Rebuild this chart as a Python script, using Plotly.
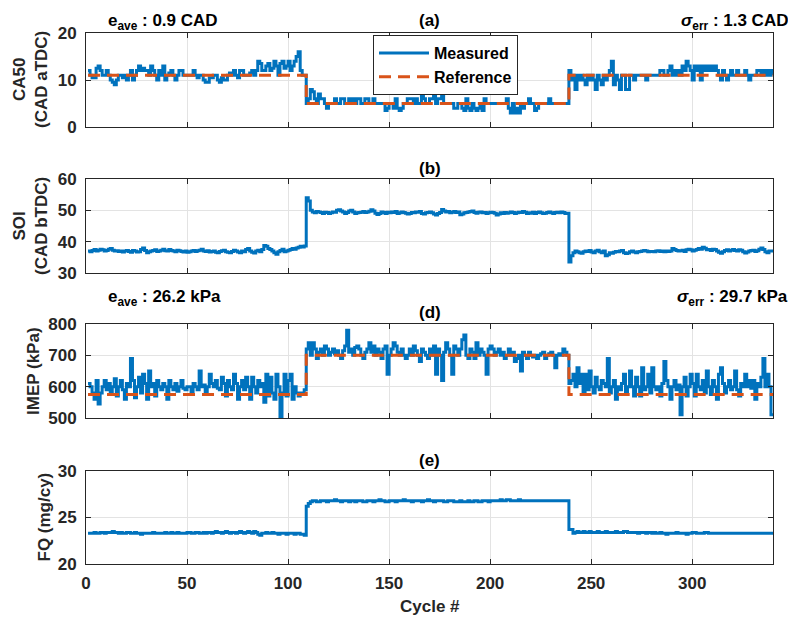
import plotly.graph_objects as go

cycles = list(range(1, 341))

ca50_measured = [
    12, 11, 10.5, 10.5, 12.5, 13, 12, 11, 11, 12,
    11, 10, 9.5, 9, 10, 11, 11, 10.5, 11, 10,
    11, 12, 10, 11, 12, 13, 12, 12.5, 12, 12,
    11, 13, 12, 11, 10, 12, 11, 13, 10, 11,
    11.5, 12, 11, 10, 11, 12, 12, 11, 11, 11,
    11, 11, 12, 11, 10.5, 11, 11, 10, 9.5, 9.5,
    10.5, 10.5, 11, 11, 10, 9.5, 10.5, 10, 10, 11,
    11.5, 11, 12, 11, 10.5, 12, 12, 11, 11, 11,
    11.5, 12, 11, 12, 14, 13.5, 12, 12, 13, 13.5,
    12, 12.5, 14, 13, 11, 13.5, 14, 12.5, 13, 14,
    12, 13, 14, 15, 16, 12, 11, 11, 5, 6,
    8, 7.5, 6, 5, 7, 6, 6, 5, 4, 5,
    5, 5, 6, 5, 5, 6, 6, 5, 5, 6,
    5, 6, 5, 6, 6, 5, 5, 6, 6, 5,
    5, 6, 5, 5, 5, 5, 5, 3.5, 4, 5,
    5, 4, 6, 4, 3.5, 4, 5, 5, 6, 6,
    6, 5, 6, 5, 5, 7, 6, 5, 5, 6,
    6, 7, 5, 6, 6, 7, 5, 5, 5, 5,
    5, 4, 4, 5, 5, 4, 3.5, 6, 4, 3.5,
    5, 4, 3.5, 4, 5, 3.5, 6, 5, 5, 5,
    5, 5, 5, 5, 5, 5, 5, 6, 4, 3,
    5, 3, 4, 3, 5, 4, 5, 5, 6, 5,
    5, 3.5, 4, 5, 5, 5, 5, 5, 6, 5,
    5, 5, 5, 5, 5, 5, 5, 5, 12, 10,
    11, 8, 11, 10, 11, 10, 9, 11, 10, 11,
    10, 8, 11, 10, 9, 11, 10, 11, 12, 14,
    9, 11, 10, 8, 11, 11, 8, 8, 11, 11,
    10, 11, 11, 11, 11, 11, 10, 11, 11, 11,
    11, 11, 11, 12, 12, 11, 11, 12, 13, 11,
    12, 11, 12, 11, 13, 12, 14, 13, 12, 10,
    13, 12, 13, 10, 13, 12, 13, 12, 13, 12,
    13, 12, 11, 10, 12, 11, 10, 11, 12, 11,
    11, 12, 11, 11, 11, 12, 11, 10, 11, 11,
    11, 12, 12, 11, 12, 11, 12, 11, 12, 11,
]

ref_cycles = [1, 109, 239, 340]
ca50_reference = [11, 5, 11, 11]
imep_reference = [575, 700, 575, 575]

soi_measured = [
    37.0, 36.8, 37.2, 37.5, 37.0, 37.3, 37.6, 37.4, 37.0, 37.2,
    37.6, 37.8, 37.3, 37.0, 37.1, 36.9, 37.0, 36.7, 37.0, 37.2,
    36.9, 36.6, 37.2, 37.0, 36.7, 36.8, 37.5, 38.0, 37.2, 36.5,
    36.8, 37.0, 37.2, 37.4, 36.9, 37.0, 37.3, 37.6, 37.1, 37.0,
    37.5, 37.2, 37.0, 36.8, 37.3, 37.1, 36.9, 36.7, 37.0, 36.6,
    36.8, 37.0, 37.2, 36.9, 37.1, 37.3, 37.6, 37.0, 36.9, 37.1,
    36.7, 36.9, 37.0, 36.6, 36.5, 36.9, 37.1, 37.3, 36.8, 36.6,
    36.5, 36.9, 37.3, 37.0, 36.7, 36.5, 37.0, 36.8, 37.5, 37.8,
    37.0, 36.6, 36.4, 37.0, 37.3, 36.8, 37.5, 38.8, 38.5, 37.8,
    37.5, 37.0, 36.5, 36.0, 36.8, 37.2, 37.6, 36.8, 37.0, 37.3,
    37.5, 37.8, 37.6, 38.0, 38.2, 38.5, 38.3, 38.6, 54.0, 53.0,
    50.0, 49.5, 49.2, 49.6, 49.5, 49.3, 49.0, 49.4, 49.3, 49.0,
    49.2, 49.5, 49.4, 50.0, 50.2, 49.8, 49.5, 49.0, 49.3, 49.8,
    50.0, 49.5, 49.0, 49.2, 49.3, 49.4, 49.6, 49.3, 49.5, 49.7,
    50.2, 49.8, 49.1, 48.7, 49.0, 49.5, 49.3, 49.0, 49.4, 49.2,
    49.5, 49.3, 49.6, 49.0, 49.2, 49.5, 49.3, 49.1, 48.8, 49.0,
    49.3, 49.2, 49.5, 49.4, 49.6, 49.0, 48.8, 49.2, 49.3, 49.5,
    49.2, 48.8, 48.5, 49.0, 49.3, 50.3, 49.8, 49.5, 49.6, 49.2,
    49.4, 49.6, 49.3, 49.5, 48.6, 48.8, 49.2, 49.3, 49.5, 49.6,
    49.8, 49.3, 49.1, 49.4, 49.5, 49.2, 49.3, 49.0, 49.2, 49.4,
    49.3, 49.1, 48.5, 48.8, 49.2, 49.0, 49.3, 49.1, 49.2, 49.5,
    49.3, 49.0, 49.2, 49.4, 49.3, 49.6, 49.4, 49.0, 49.2, 49.1,
    49.4, 49.0, 49.3, 49.5, 49.2, 49.0, 49.1, 49.3, 49.5, 49.2,
    49.0, 49.3, 49.4, 49.2, 49.5, 49.3, 49.0, 49.1, 33.5, 35.5,
    36.5, 37.0, 36.8, 36.5, 36.3, 36.8, 37.0, 36.9, 37.2, 36.7,
    36.5, 37.0, 37.3, 36.8, 36.5, 37.0, 35.5, 35.8, 36.5, 36.3,
    36.6, 36.9, 36.8, 37.0, 37.2, 36.5, 36.2, 36.4, 36.8, 37.0,
    36.7, 36.5, 36.8, 36.9, 37.0, 37.2, 37.0, 36.8, 36.9, 36.9,
    36.8, 37.0, 37.1, 36.9, 37.0, 36.8, 37.0, 36.9, 37.0, 37.8,
    37.5, 37.2, 37.0, 37.1, 37.3, 36.9, 37.4, 37.6, 37.4, 37.0,
    37.3, 37.5, 37.8, 37.6, 38.2, 37.9, 37.4, 37.5, 37.2, 37.6,
    37.5, 37.0, 36.6, 36.3, 36.8, 37.2, 37.4, 37.0, 37.3, 37.5,
    37.2, 37.0, 37.4, 37.3, 36.8, 36.4, 36.7, 37.0, 37.2, 37.3,
    36.9, 37.1, 37.6, 38.0, 37.5, 36.8, 36.5, 37.0, 37.0, 37.0,
]

imep_measured = [
    610, 600, 580, 560, 620, 545, 580, 600, 620, 590,
    610, 580, 600, 625, 570, 600, 620, 590, 560, 610,
    600, 690, 620, 565, 600, 630, 580, 640, 610, 560,
    650, 600, 610, 570, 620, 600, 590, 610, 600, 560,
    620, 600, 590, 610, 585, 600, 620, 595, 590, 600,
    600, 580, 610, 600, 590, 650, 600, 605, 575, 600,
    640, 610, 600, 620, 595, 590, 630, 610, 570, 620,
    600, 590, 640, 610, 560, 600, 620, 590, 630, 600,
    560, 630, 600, 580, 620, 600, 610, 550, 640, 570,
    630, 580, 560, 640, 600, 505, 580, 640, 570, 620,
    640, 560, 600, 580, 570, 580, 575, 590, 720, 740,
    700, 740, 720, 690, 710, 720, 700, 730, 720, 700,
    710, 720, 705, 715, 700, 690, 715, 730, 780, 710,
    720, 700, 725, 730, 720, 700, 690, 710, 720, 740,
    710, 730, 700, 720, 710, 690, 720, 730, 640, 700,
    720, 740, 730, 710, 700, 720, 700, 690, 700, 720,
    700, 730, 715, 700, 680, 720, 710, 700, 690, 720,
    700, 730, 640, 720, 700, 620, 710, 740, 720, 700,
    640, 730, 720, 700, 720, 750, 765, 700, 690, 720,
    710, 690, 740, 700, 720, 710, 700, 640, 720, 730,
    720, 700, 710, 720, 700, 710, 690, 700, 720, 700,
    710, 680, 690, 700, 650, 710, 700, 690, 710, 700,
    695, 700, 690, 700, 705, 710, 690, 700, 705, 710,
    700, 660, 700, 705, 700, 720, 710, 700, 610, 620,
    640, 600, 660, 610, 640, 580, 640, 590, 650, 600,
    580, 630, 600, 590, 620, 610, 600, 690, 580, 600,
    620, 560, 600, 590, 610, 640, 580, 600, 650, 600,
    570, 630, 600, 570, 660, 590, 600, 640, 580, 660,
    600, 590, 600, 570, 610, 680, 620, 600, 560, 600,
    620, 590, 605, 510, 600, 630, 570, 600, 640, 610,
    570, 640, 600, 590, 620, 580, 650, 600, 575, 620,
    600, 560, 640, 660, 610, 580, 600, 620, 590, 600,
    650, 590, 570, 610, 600, 640, 600, 620, 595, 620,
    560, 610, 600, 630, 690, 600, 640, 600, 510, 510,
]

fq_measured = [
    23.3, 23.3, 23.3, 23.4, 23.3, 23.3, 23.4, 23.4, 23.3, 23.4,
    23.4, 23.4, 23.5, 23.4, 23.4, 23.3, 23.4, 23.3, 23.3, 23.4,
    23.4, 23.3, 23.3, 23.4, 23.3, 23.3, 23.2, 23.3, 23.3, 23.3,
    23.3, 23.3, 23.4, 23.3, 23.3, 23.3, 23.3, 23.3, 23.4, 23.3,
    23.3, 23.4, 23.3, 23.3, 23.4, 23.3, 23.3, 23.3, 23.3, 23.4,
    23.4, 23.3, 23.3, 23.4, 23.4, 23.3, 23.3, 23.4, 23.3, 23.4,
    23.4, 23.3, 23.4, 23.5, 23.4, 23.4, 23.3, 23.4, 23.5, 23.4,
    23.3, 23.4, 23.4, 23.3, 23.4, 23.5, 23.4, 23.3, 23.4, 23.5,
    23.4, 23.3, 23.5, 23.4, 23.2, 23.1, 23.3, 23.3, 23.4, 23.3,
    23.3, 23.4, 23.3, 23.3, 23.2, 23.3, 23.3, 23.3, 23.2, 23.3,
    23.3, 23.3, 23.2, 23.3, 23.3, 23.2, 23.2, 23.1, 26.2, 26.5,
    26.7, 26.8, 26.8, 26.7, 26.7, 26.8, 26.8, 26.8, 26.7, 26.8,
    26.8, 26.8, 26.9, 26.8, 26.8, 26.7, 26.8, 26.8, 26.8, 26.7,
    26.8, 26.8, 26.7, 26.8, 26.8, 26.8, 26.7, 26.7, 26.8, 26.8,
    26.8, 26.7, 26.8, 26.8, 26.9, 26.8, 26.8, 26.7, 26.7, 26.8,
    26.8, 26.8, 26.7, 26.8, 26.8, 26.8, 26.9, 26.8, 26.8, 26.8,
    26.7, 26.8, 26.8, 26.8, 26.8, 26.7, 26.8, 26.8, 26.9, 26.8,
    26.8, 26.7, 26.8, 26.8, 26.8, 26.8, 26.7, 26.7, 26.8, 26.8,
    26.8, 26.7, 26.7, 26.7, 26.8, 26.7, 26.7, 26.7, 26.8, 26.7,
    26.7, 26.8, 26.8, 26.7, 26.7, 26.8, 26.8, 26.8, 26.7, 26.8,
    26.8, 26.8, 26.8, 26.8, 26.9, 26.8, 26.8, 26.9, 26.9, 26.8,
    26.8, 26.8, 26.8, 26.9, 26.8, 26.8, 26.8, 26.8, 26.8, 26.8,
    26.8, 26.8, 26.8, 26.8, 26.8, 26.8, 26.8, 26.8, 26.8, 26.8,
    26.8, 26.8, 26.8, 26.8, 26.8, 26.8, 26.8, 26.8, 23.7, 23.7,
    23.3, 23.4, 23.5, 23.4, 23.4, 23.5, 23.4, 23.4, 23.5, 23.4,
    23.4, 23.4, 23.5, 23.4, 23.4, 23.4, 23.5, 23.4, 23.4, 23.4,
    23.4, 23.5, 23.4, 23.4, 23.4, 23.5, 23.5, 23.4, 23.4, 23.4,
    23.4, 23.4, 23.3, 23.4, 23.4, 23.4, 23.3, 23.4, 23.4, 23.3,
    23.4, 23.3, 23.3, 23.4, 23.3, 23.3, 23.2, 23.3, 23.3, 23.3,
    23.3, 23.4, 23.3, 23.3, 23.3, 23.3, 23.2, 23.3, 23.3, 23.4,
    23.4, 23.3, 23.3, 23.3, 23.3, 23.4, 23.4, 23.3, 23.3, 23.3,
    23.3, 23.3, 23.3, 23.3, 23.3, 23.3, 23.3, 23.3, 23.3, 23.3,
    23.3, 23.3, 23.3, 23.3, 23.3, 23.3, 23.3, 23.3, 23.3, 23.3,
    23.3, 23.3, 23.3, 23.3, 23.3, 23.3, 23.3, 23.3, 23.3, 23.3,
]

for arr in (ca50_measured, soi_measured, imep_measured, fq_measured):
    assert len(arr) == len(cycles), len(arr)

x_ticks = [0, 50, 100, 150, 200, 250, 300]
panel_titles = ["(a)", "(b)", "(d)", "(e)"]
y_titles = ["CA50<br>(CAD aTDC)", "SOI<br>(CAD bTDC)", "IMEP (kPa)", "FQ (mg/cy)"]
y_ranges = [[0, 20], [30, 60], [500, 800], [20, 30]]
y_ticks = [[0, 10, 20], [30, 40, 50, 60], [500, 600, 700, 800], [20, 25, 30]]

BLUE = "#0072BD"
ORANGE = "#D95319"
TXT = "#262626"
FONT = "Liberation Sans"

# The page body has an 8px margin, so the figure is drawn at (8, 8).
OFF = 8
FIG_W, FIG_H = 796 - OFF, 624 - 2 * OFF
# plot area in window pixels: left 86, right 773, top 33, bottom 564
L, R, T, B = 86, 773, 33, 564
W, H = R - L, B - T
def px_x(p):
    return (p - L) / W
def px_y(p):
    return (B - p) / H

domains = [[px_y(127), px_y(33)], [px_y(273), px_y(179)],
           [px_y(418), px_y(324)], [px_y(564), px_y(471)]]
ytitle_x = [30, 30, 33, 44]

fig = go.Figure()

series = [
    (ca50_measured, ca50_reference),
    (soi_measured, None),
    (imep_measured, imep_reference),
    (fq_measured, None),
]

for i, (meas, ref) in enumerate(series):
    n = "" if i == 0 else str(i + 1)
    fig.add_trace(go.Scatter(
        x=cycles, y=meas, mode="lines", line=dict(color=BLUE, width=3, shape="hv"),
        name="Measured", showlegend=(i == 0), xaxis="x" + n, yaxis="y" + n,
    ))
    if ref is not None:
        fig.add_trace(go.Scatter(
            x=ref_cycles, y=ref, mode="lines",
            line=dict(color=ORANGE, width=3, shape="hv", dash="12px,7px"),
            name="Reference", showlegend=(i == 0), xaxis="x" + n, yaxis="y" + n,
        ))

layout = dict(
    width=FIG_W, height=FIG_H,
    margin=dict(l=L - OFF, r=FIG_W - (R - OFF), t=T - OFF, b=FIG_H - (B - OFF),
                autoexpand=False),
    paper_bgcolor="white", plot_bgcolor="white",
    font=dict(family=FONT, color=TXT, size=17, weight="bold"),
    legend=dict(
        x=px_x(373), y=px_y(35), xanchor="left", yanchor="top",
        bgcolor="white", bordercolor=TXT, borderwidth=1,
        font=dict(family=FONT, size=16, color="black", weight="bold"),
        itemwidth=50, tracegroupgap=0,
    ),
)

for i in range(4):
    n = "" if i == 0 else str(i + 1)
    layout["xaxis" + n] = dict(
        domain=[0, 1], anchor="y" + n, range=[0, 340], automargin=False,
        tickvals=x_ticks, showticklabels=(i == 3),
        ticks="inside", ticklen=5, tickcolor=TXT, tickwidth=1,
        showline=True, linecolor=TXT, linewidth=1, mirror="ticks",
        showgrid=True, gridcolor="#e3e3e3", gridwidth=1, zeroline=False,
        tickfont=dict(family=FONT, size=17, color=TXT, weight="bold"),
        ticklabelstandoff=4,
    )
    layout["yaxis" + n] = dict(
        domain=domains[i], anchor="x" + n, range=y_ranges[i], automargin=False,
        tickvals=y_ticks[i],
        ticks="inside", ticklen=5, tickcolor=TXT, tickwidth=1,
        showline=True, linecolor=TXT, linewidth=1, mirror="ticks",
        showgrid=True, gridcolor="#e3e3e3", gridwidth=1, zeroline=False,
        tickfont=dict(family=FONT, size=17, color=TXT, weight="bold"),
        ticklabelstandoff=5,
    )

fig.update_layout(**layout)

annotations = []
title_shift = [13, 11, 11, 11]
for i, t in enumerate(panel_titles):
    annotations.append(dict(
        text=t, x=0.5, xref="paper", y=domains[i][1], yref="paper",
        xanchor="center", yanchor="middle", yshift=title_shift[i], showarrow=False,
        font=dict(family=FONT, size=17, color="black", weight="bold"),
    ))
    annotations.append(dict(
        text=y_titles[i], x=px_x(ytitle_x[i]), xref="paper",
        y=(domains[i][0] + domains[i][1]) / 2, yref="paper",
        xanchor="center", yanchor="middle", textangle=-90, showarrow=False,
        font=dict(family=FONT, size=17, color=TXT, weight="bold"),
    ))

annotations.append(dict(
    text="Cycle #", x=0.5, xref="paper", y=px_y(606), yref="paper",
    xanchor="center", yanchor="middle", showarrow=False,
    font=dict(family=FONT, size=17, color=TXT, weight="bold"),
))

# stat labels: (left text, right text, y in window pixels for the top of the box)
stats = [
    ("e<sub>ave</sub> : 0.9 CAD", "<i>σ</i><sub>err</sub> : 1.3 CAD", 9),
    ("e<sub>ave</sub> : 26.2 kPa", "<i>σ</i><sub>err</sub> : 29.7 kPa", 285),
]
for left, right, ytop_px in stats:
    annotations.append(dict(
        text=left, x=px_x(106), xref="paper", y=px_y(ytop_px), yref="paper",
        xanchor="left", yanchor="top", showarrow=False,
        font=dict(family=FONT, size=17, color="black", weight="bold"),
    ))
    annotations.append(dict(
        text=right, x=px_x(790), xref="paper", y=px_y(ytop_px), yref="paper",
        xanchor="right", yanchor="top", showarrow=False,
        font=dict(family=FONT, size=17, color="black", weight="bold"),
    ))

fig.update_layout(annotations=annotations)

fig.write_html("out.html")
